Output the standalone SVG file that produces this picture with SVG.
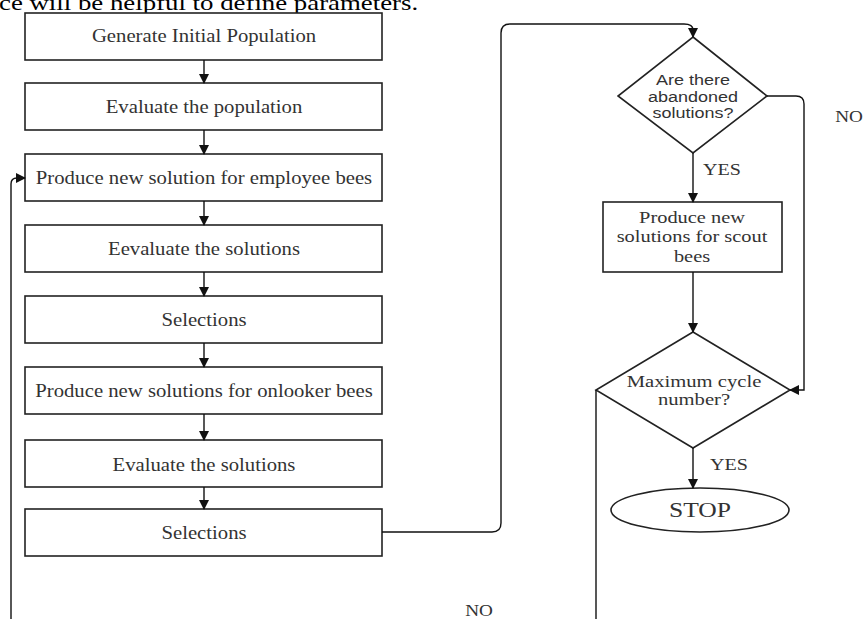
<svg xmlns="http://www.w3.org/2000/svg" width="864" height="619" viewBox="0 0 864 619">
<style>
.box{fill:#fff;stroke:#222;stroke-width:1.6}
.t{font-family:"Liberation Serif",serif;font-size:18.5px;fill:#333;text-anchor:middle}
.s{font-family:"Liberation Sans",Arial,sans-serif;font-size:15.5px;fill:#333;text-anchor:middle}
.l{font-family:"Liberation Serif",serif;font-size:16px;fill:#333;text-anchor:middle}
.c{fill:none;stroke:#111;stroke-width:1.4}
</style>
<defs>
<marker id="ah" viewBox="0 0 10 10" refX="9" refY="5" markerWidth="10" markerHeight="10" markerUnits="userSpaceOnUse" orient="auto">
<path d="M0,0 L10,5 L0,10 z" fill="#111"/>
</marker>
</defs>
<rect width="864" height="619" fill="#fff"/>
<g transform="translate(-1,0) scale(1.22,1)"><text x="0" y="10" style="font-family:'Liberation Serif',serif;font-size:22px;fill:#000">ce will be helpful to define parameters.</text></g>
<g id="n1"><rect class="box" x="25" y="13" width="357" height="47"/><g transform="translate(204,0) scale(1.12,1)"><text class="t" x="0" y="42.5">Generate Initial Population</text></g></g>
<g id="n2"><rect class="box" x="25" y="83" width="357" height="47"/><g transform="translate(204,0) scale(1.12,1)"><text class="t" x="0" y="113">Evaluate the population</text></g></g>
<g id="n3"><rect class="box" x="25" y="154" width="357" height="47"/><g transform="translate(204,0) scale(1.12,1)"><text class="t" x="0" y="184">Produce new solution for employee bees</text></g></g>
<g id="n4"><rect class="box" x="25" y="225" width="357" height="47"/><g transform="translate(204,0) scale(1.12,1)"><text class="t" x="0" y="255">Eevaluate the solutions</text></g></g>
<g id="n5"><rect class="box" x="25" y="296" width="357" height="47"/><g transform="translate(204,0) scale(1.12,1)"><text class="t" x="0" y="326">Selections</text></g></g>
<g id="n6"><rect class="box" x="25" y="367" width="357" height="47"/><g transform="translate(204,0) scale(1.12,1)"><text class="t" x="0" y="397">Produce new solutions for onlooker bees</text></g></g>
<g id="n7"><rect class="box" x="25" y="440" width="357" height="47"/><g transform="translate(204,0) scale(1.12,1)"><text class="t" x="0" y="471">Evaluate the solutions</text></g></g>
<g id="n8"><rect class="box" x="25" y="509" width="357" height="47"/><g transform="translate(204,0) scale(1.12,1)"><text class="t" x="0" y="539">Selections</text></g></g>
<g id="d1"><polygon class="box" points="693,37 767,96 693,153 618,96"/><g transform="translate(693,0) scale(1.16,1)"><text class="s" x="0" y="85.5">Are there</text><text class="s" x="0" y="102">abandoned</text><text class="s" x="0" y="118.5">solutions?</text></g></g>
<g id="n9"><rect class="box" x="603" y="202" width="179" height="70"/><g transform="translate(692,0) scale(1.2,1)"><text class="t" x="0" y="223" style="font-size:17px">Produce new</text><text class="t" x="0" y="242.5" style="font-size:17px">solutions for scout</text><text class="t" x="0" y="262" style="font-size:17px">bees</text></g></g>
<g id="d2"><polygon class="box" points="693,332 790,390 693,448 596,390"/><g transform="translate(694,0) scale(1.18,1)"><text class="t" x="0" y="387" style="font-size:17.5px">Maximum cycle</text><text class="t" x="0" y="405" style="font-size:17.5px">number?</text></g></g>
<g id="stop"><ellipse class="box" cx="700" cy="510" rx="89" ry="22"/><g transform="translate(700,0) scale(1.22,1)"><text class="t" x="0" y="517" style="font-size:21px">STOP</text></g></g>
<g id="connectors">
<path class="c" d="M204,60 V83" marker-end="url(#ah)"/>
<path class="c" d="M204,130 V154" marker-end="url(#ah)"/>
<path class="c" d="M204,201 V225" marker-end="url(#ah)"/>
<path class="c" d="M204,272 V296" marker-end="url(#ah)"/>
<path class="c" d="M204,343 V367" marker-end="url(#ah)"/>
<path class="c" d="M204,414 V440" marker-end="url(#ah)"/>
<path class="c" d="M204,487 V509" marker-end="url(#ah)"/>
<path class="c" d="M382,532 H492 Q501,532 501,523 V33 Q501,24 510,24 H684 Q693,24 693,30 V37" marker-end="url(#ah)"/>
<path class="c" d="M767,96 H796 Q804,96 804,104 V390 H790" marker-end="url(#ah)"/>
<path class="c" d="M693,153 V202" marker-end="url(#ah)"/>
<path class="c" d="M693,272 V332" marker-end="url(#ah)"/>
<path class="c" d="M693,448 V488" marker-end="url(#ah)"/>
<path class="c" d="M596,390 V619"/>
<path class="c" d="M11,619 V184 Q11,178 17,178 H25" marker-end="url(#ah)"/>
</g>
<g transform="translate(722,0) scale(1.25,1)"><text class="l" x="0" y="175">YES</text></g>
<g transform="translate(729,0) scale(1.25,1)"><text class="l" x="0" y="470">YES</text></g>
<g transform="translate(849,0) scale(1.2,1)"><text class="l" x="0" y="122">NO</text></g>
<g transform="translate(479,0) scale(1.2,1)"><text class="l" x="0" y="616">NO</text></g>
</svg>
